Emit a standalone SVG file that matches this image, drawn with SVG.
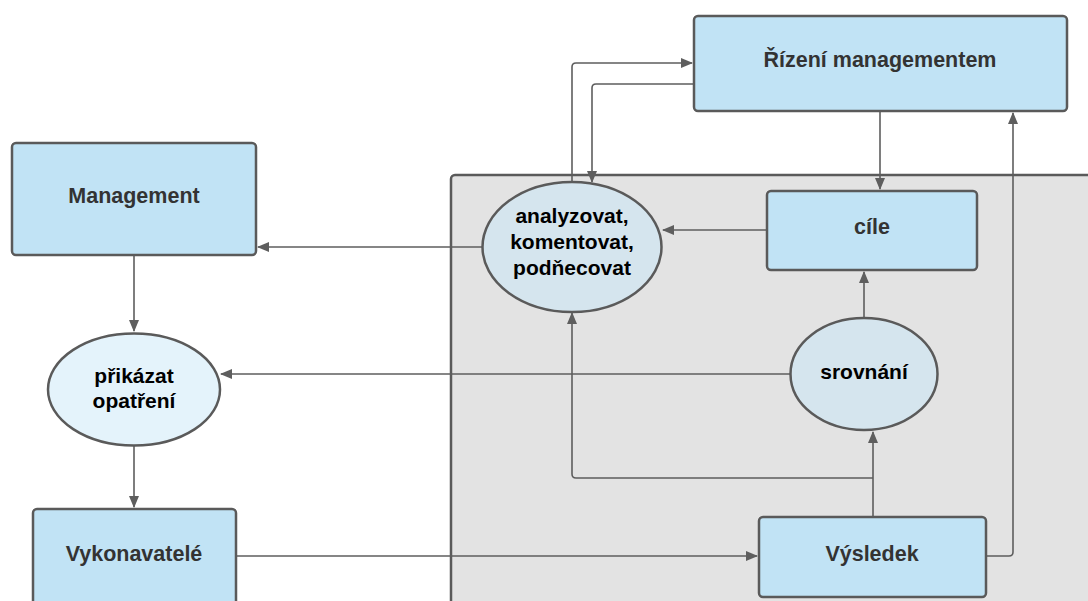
<svg xmlns="http://www.w3.org/2000/svg" width="1088" height="601" viewBox="0 0 1088 601">
<style>
.box{fill:#c1e3f5;stroke:#5a5a5a;stroke-width:2.5}
.ell{fill:#d5e5ee;stroke:#5a5a5a;stroke-width:2.5}
.ell2{fill:#e4f3fb;stroke:#5a5a5a;stroke-width:2.5}
.bt{font-family:"Liberation Sans",Arial,sans-serif;font-weight:bold;font-size:21.5px;fill:#333;text-anchor:middle}
.et{font-family:"Liberation Sans",Arial,sans-serif;font-weight:bold;font-size:21px;fill:#000;text-anchor:middle}
.c{fill:none;stroke:#5e5e5e;stroke-width:1.6;marker-end:url(#ah)}
</style>
<defs>
<marker id="ah" viewBox="0 0 12 10" refX="11" refY="5" markerWidth="12" markerHeight="10" markerUnits="userSpaceOnUse" orient="auto">
<path d="M0,0 L12,5 L0,10 Z" fill="#5e5e5e"/>
</marker>
</defs>
<rect id="panel" x="451" y="175" width="660" height="450" rx="4" fill="#e3e3e3" stroke="#5a5a5a" stroke-width="2.5"/>
<g id="connectors">
<path class="c" d="M483,247 L258,247"/>
<path class="c" d="M134,256 L134,331"/>
<path class="c" d="M790,374 L221,374"/>
<path class="c" d="M134,446 L134,507"/>
<path class="c" d="M236,556 L757,556"/>
<path class="c" d="M880,112 L880,189"/>
<path class="c" d="M766,230 L663,230"/>
<path class="c" d="M864,318 L864,272"/>
<path class="c" d="M873,517 L873,432"/>
<path class="c" d="M873,478 L576,478 Q572,478 572,474 L572,313"/>
<path class="c" d="M987,556 L1009,556 Q1013,556 1013,552 L1013,113"/>
<path class="c" d="M572,182 L572,67 Q572,63 576,63 L692,63"/>
<path class="c" d="M694,84 L596,84 Q592,84 592,88 L592,182"/>
</g>
<g id="rizeni">
<rect class="box" x="694" y="16" width="373" height="95" rx="4"/>
<text class="bt" x="880" y="67">Řízení managementem</text>
</g>
<g id="management">
<rect class="box" x="12" y="143" width="244" height="112" rx="4"/>
<text class="bt" x="134" y="203">Management</text>
</g>
<g id="analyzovat">
<ellipse class="ell" cx="572" cy="247" rx="89.5" ry="65"/>
<text class="et" x="572" y="223">analyzovat,</text>
<text class="et" x="572" y="249">komentovat,</text>
<text class="et" x="572" y="275">podňecovat</text>
</g>
<g id="cile">
<rect class="box" x="767" y="191" width="210" height="79" rx="4"/>
<text class="bt" x="872" y="234">cíle</text>
</g>
<g id="prikazat">
<ellipse class="ell2" cx="134" cy="389.5" rx="86" ry="56"/>
<text class="et" x="134" y="383">přikázat</text>
<text class="et" x="134" y="408">opatření</text>
</g>
<g id="srovnani">
<ellipse class="ell" cx="864" cy="374" rx="73.5" ry="56"/>
<text class="et" x="864" y="379">srovnání</text>
</g>
<g id="vykonavatele">
<rect class="box" x="33" y="509" width="203" height="110" rx="4"/>
<text class="bt" x="134" y="561">Vykonavatelé</text>
</g>
<g id="vysledek">
<rect class="box" x="759" y="517" width="227" height="80" rx="4"/>
<text class="bt" x="872" y="561">Výsledek</text>
</g>
</svg>
